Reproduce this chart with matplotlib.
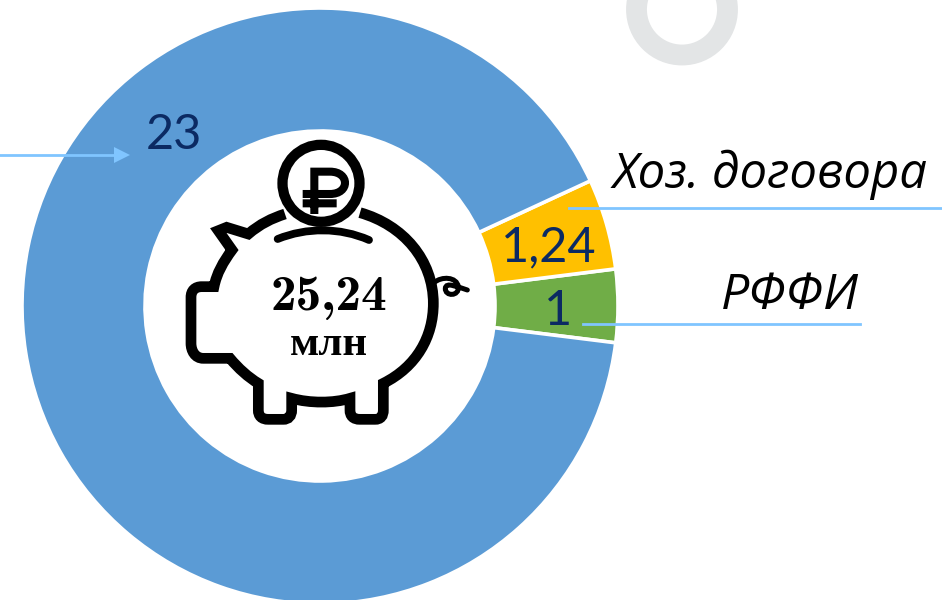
import matplotlib
matplotlib.use("Agg")
import matplotlib.pyplot as plt
from matplotlib.patches import Circle, PathPatch
from matplotlib.path import Path

# данные
categories = ["РФФИ", "Хоз. договора", "Гранты"]
values = [1, 1.24, 23]
colors = ["#70ad47", "#ffc000", "#5b9bd5"]
total_label = "25,24"
unit_label = "млн"

W, H = 942, 600
LINE = "#80c5ff"
NAVY = "#0b2a63"


def fy(y):
    # пиксели сверху -> координаты оси
    return H - y


def zoom_pt(x, y):
    return 170 + x / 3, fy(140 + y / 3)


def icon_path(cmds):
    verts, codes = [], []
    for code, pts in cmds:
        for p in pts:
            verts.append(zoom_pt(*p))
            codes.append(code)
    return Path(verts, codes)


fig = plt.figure(figsize=(W / 100, H / 100), dpi=100)
ax = fig.add_axes([0, 0, 1, 1])

# серое кольцо сверху
ax.add_patch(Circle((682, fy(9.5)), 45.5, fill=False, ec="#e3e5e6", lw=15))

wedges, _ = ax.pie(values, colors=colors, startangle=-7.1, radius=298,
                   center=(320, fy(306)),
                   wedgeprops=dict(width=123, edgecolor="white", linewidth=2.6))

# копилка
M, L, C = Path.MOVETO, Path.LINETO, Path.CURVE4
body = icon_path([
    (M, [(345, 222)]),
    (C, [(305, 235), (270, 252), (235, 282)]),
    (L, [(170, 262), (145, 272), (186, 330)]),
    (C, [(160, 365), (140, 400), (132, 440)]),
    (L, [(95, 440)]),
    (C, [(75, 440), (63, 452), (63, 472)]),
    (L, [(63, 610)]),
    (C, [(63, 632), (75, 655), (100, 655)]),
    (L, [(180, 655)]),
    (C, [(205, 685), (235, 712), (265, 730)]),
    (L, [(265, 810)]),
    (C, [(265, 828), (275, 838), (295, 838)]),
    (L, [(340, 838)]),
    (C, [(355, 838), (365, 828), (365, 810)]),
    (L, [(365, 775)]),
    (C, [(420, 790), (490, 790), (540, 775)]),
    (L, [(540, 810)]),
    (C, [(540, 828), (550, 838), (570, 838)]),
    (L, [(615, 838)]),
    (C, [(632, 838), (640, 828), (640, 810)]),
    (L, [(640, 730)]),
    (C, [(740, 680), (790, 590), (790, 490)]),
    (C, [(790, 360), (700, 255), (570, 218)]),
])
ax.add_patch(PathPatch(body, fill=False, ec="black", lw=7.7, joinstyle="miter", capstyle="butt"))

slot = icon_path([
    (M, [(323, 297)]),
    (C, [(410, 262), (510, 262), (597, 300)]),
])
ax.add_patch(PathPatch(slot, fill=False, ec="black", lw=5.6, capstyle="round"))

tail = icon_path([
    (M, [(792, 428)]),
    (C, [(815, 408), (860, 410), (865, 440)]),
    (C, [(868, 470), (825, 470), (826, 445)]),
    (C, [(828, 425), (860, 440), (892, 450)]),
])
ax.add_patch(PathPatch(tail, fill=False, ec="black", lw=3.6, capstyle="round"))

# монета с рублём
ax.add_patch(Circle(zoom_pt(453, 130), 38.5, fc="white", ec="black", lw=7.4))
rub = icon_path([
    (M, [(433, 222)]),
    (L, [(433, 95)]),
    (L, [(480, 95)]),
    (C, [(540, 95), (540, 162), (480, 162)]),
    (L, [(398, 162)]),
    (M, [(398, 190)]),
    (L, [(500, 190)]),
])
ax.add_patch(PathPatch(rub, fill=False, ec="black", lw=5.8, capstyle="butt", joinstyle="miter"))

# подпись в центре
ax.text(329, fy(297), total_label, family=["cmb10"], fontsize=37, ha="center", va="center",
        color="black")
ax.text(329, fy(345), unit_label, family=["Liberation Serif"], fontweight="bold", fontsize=31,
        ha="center", va="center", color="black")

# значения
val_fmt = [str(v).replace(".", ",") for v in values]
ax.text(174, fy(135), val_fmt[2], fontsize=35, family=["Lato", "Open Sans"], color=NAVY, ha="center", va="center")
ax.text(549, fy(247), val_fmt[1], fontsize=35, family=["Lato", "Open Sans"], color=NAVY, ha="center", va="center")
ax.text(558, fy(311), val_fmt[0], fontsize=35, family=["Lato", "Open Sans"], color=NAVY, ha="center", va="center")

# названия и выноски
ax.text(770, fy(175), categories[1], fontsize=35.3, style="italic", family=["Open Sans"], color="black",
        ha="center", va="center")
ax.text(790, fy(296), categories[0], fontsize=36, style="italic", family=["Open Sans"], color="black",
        ha="center", va="center")

ax.plot([569, 942], [fy(207.5), fy(207.5)], color=LINE, lw=2)
ax.plot([583, 860], [fy(323.5), fy(323.5)], color=LINE, lw=2)
ax.plot([0, 116], [fy(155), fy(155)], color=LINE, lw=2)
ax.fill([114, 130, 114], [fy(147), fy(155), fy(163)], color=LINE, lw=0)

ax.set_xlim(0, W)
ax.set_ylim(0, H)
ax.axis("off")
fig.savefig("out.png", dpi=100)
